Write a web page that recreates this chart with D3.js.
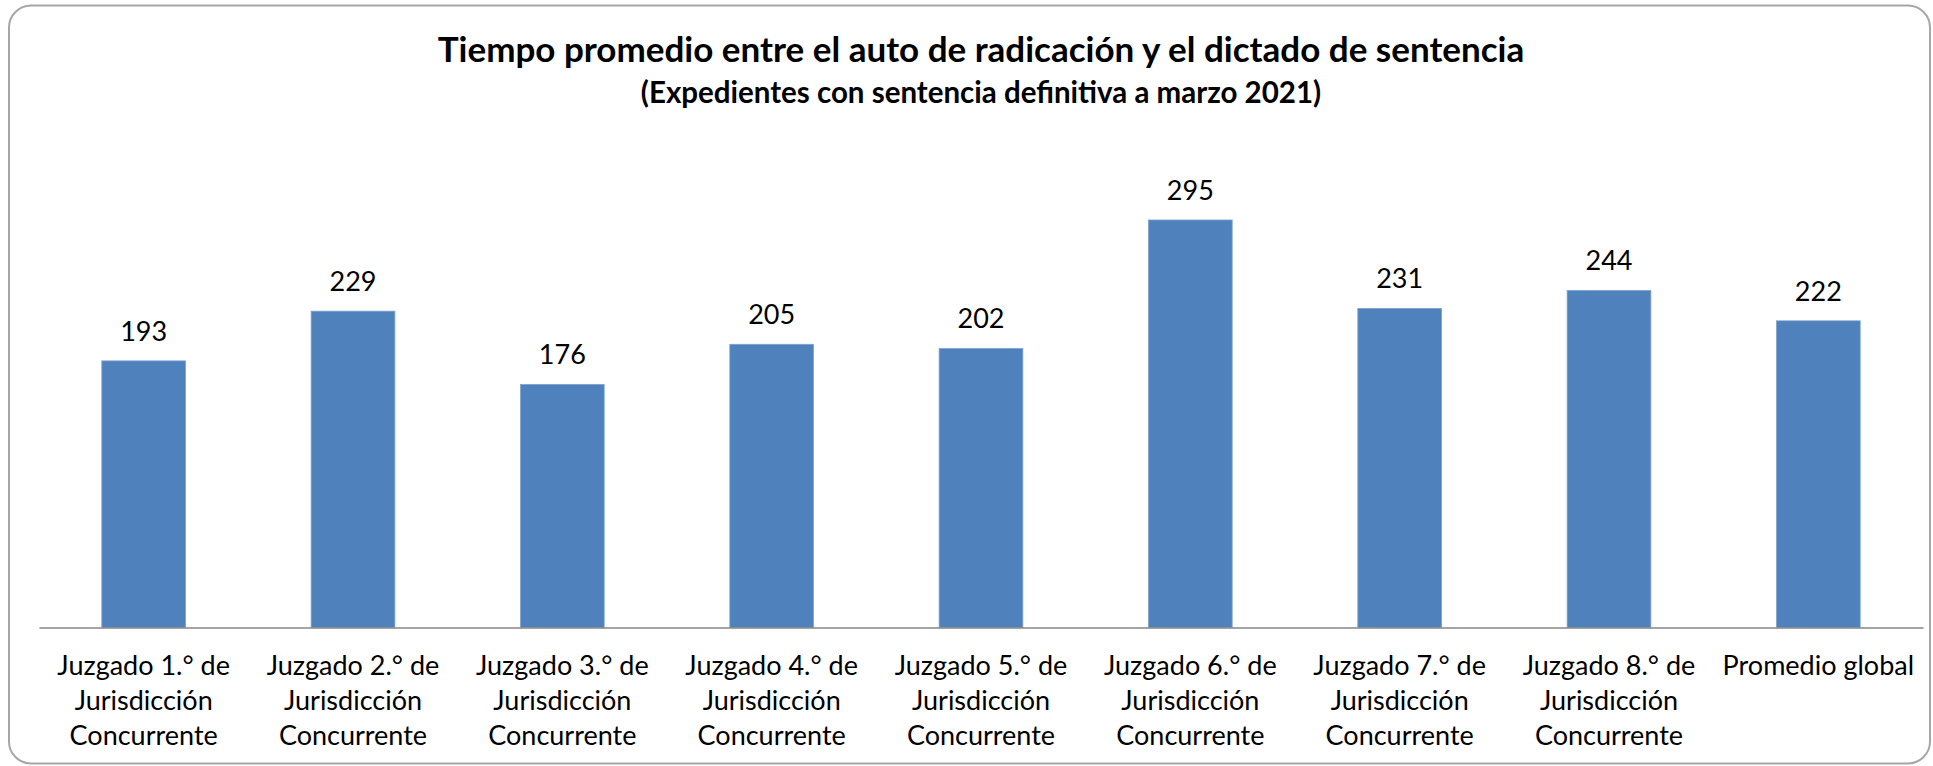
<!DOCTYPE html>
<html>
<head>
<meta charset="utf-8">
<script src="https://cdn.jsdelivr.net/npm/d3@7"></script>
<style>
    body { margin: 0; background: #ffffff; }
    svg { display: block; }
</style>
</head>
<body>
<div id="chart"></div>
<script>
// data
var categories = ["Juzgado 1.° de Jurisdicción Concurrente", "Juzgado 2.° de Jurisdicción Concurrente",
    "Juzgado 3.° de Jurisdicción Concurrente", "Juzgado 4.° de Jurisdicción Concurrente",
    "Juzgado 5.° de Jurisdicción Concurrente", "Juzgado 6.° de Jurisdicción Concurrente",
    "Juzgado 7.° de Jurisdicción Concurrente", "Juzgado 8.° de Jurisdicción Concurrente",
    "Promedio global"];
var values = [193, 229, 176, 205, 202, 295, 231, 244, 222];
var tickLabels = [
    ["Juzgado 1.° de", "Jurisdicción", "Concurrente"],
    ["Juzgado 2.° de", "Jurisdicción", "Concurrente"],
    ["Juzgado 3.° de", "Jurisdicción", "Concurrente"],
    ["Juzgado 4.° de", "Jurisdicción", "Concurrente"],
    ["Juzgado 5.° de", "Jurisdicción", "Concurrente"],
    ["Juzgado 6.° de", "Jurisdicción", "Concurrente"],
    ["Juzgado 7.° de", "Jurisdicción", "Concurrente"],
    ["Juzgado 8.° de", "Jurisdicción", "Concurrente"],
    ["Promedio global"]
];
var yMax = 350;
var title = "Tiempo promedio entre el auto de radicación y el dictado de sentencia";
var subtitle = "(Expedientes con sentencia definitiva a marzo 2021)";

var w = 1933;
var h = 766;

// plot area (window.top is reserved, so no plain "top")
var plotLeft = 39, plotRight = 1923, plotTop = 144, plotBottom = 627.5;

var svg = d3.select("#chart").append("svg").attr("width", w).attr("height", h)
    .style("font-family", "Lato, 'Open Sans', sans-serif");

// chart frame
svg.append("rect")
    .attr("x", 9)
    .attr("y", 5.5)
    .attr("width", 1921)
    .attr("height", 758)
    .attr("rx", 22)
    .attr("fill", "#ffffff")
    .attr("stroke", "#a6a6a6")
    .attr("stroke-width", 2);

// titles
svg.append("text")
    .attr("x", (plotLeft + plotRight) / 2)
    .attr("y", 62)
    .attr("text-anchor", "middle")
    .attr("font-size", "35px")
    .attr("font-weight", "bold")
    .attr("fill", "#000000")
    .text(title);

svg.append("text")
    .attr("x", (plotLeft + plotRight) / 2)
    .attr("y", 103)
    .attr("text-anchor", "middle")
    .attr("font-size", "29.5px")
    .attr("font-weight", "bold")
    .attr("fill", "#000000")
    .text(subtitle);

//scales
var xScale = d3.scaleBand()
    .domain(d3.range(categories.length))
    .range([plotLeft, plotRight])
    .paddingInner(0.6)
    .paddingOuter(0.3);

var yScale = d3.scaleLinear().domain([0, yMax]).range([plotBottom, plotTop]);

// bars
svg.append("g")
    .selectAll("rect")
    .data(values)
    .enter()
    .append("rect")
    .attr("x", function (d, i) { return xScale(i); })
    .attr("y", function (d) { return yScale(d); })
    .attr("width", xScale.bandwidth())
    .attr("height", function (d) { return yScale(0) - yScale(d); })
    .attr("fill", "#4f81bd")
    .attr("stroke", "#7fa3cf")
    .attr("stroke-width", 0.8);

// value labels
svg.append("g")
    .selectAll("text")
    .data(values)
    .enter()
    .append("text")
    .attr("x", function (d, i) { return xScale(i) + xScale.bandwidth() / 2; })
    .attr("y", function (d) { return yScale(d) - 20; })
    .attr("text-anchor", "middle")
    .attr("font-size", "27px")
    .attr("fill", "#000000")
    .text(function (d) { return d; });

// x axis, no ticks, labels wrapped over lines
var xAxis = d3.axisBottom(xScale).tickSize(0).tickFormat("");
var axisG = svg.append("g")
    .attr("transform", "translate(0, " + plotBottom + ")")
    .call(xAxis);

axisG.select(".domain")
    .attr("stroke", "#868686")
    .attr("stroke-width", 1.5);

axisG.selectAll(".tick").each(function (d) {
    var t = d3.select(this).select("text")
        .attr("y", 0)
        .attr("dy", null)
        .attr("font-size", "27px")
        .attr("font-family", "Lato, 'Open Sans', sans-serif")
        .attr("fill", "#000000");
    tickLabels[d].forEach(function (line, k) {
        t.append("tspan")
            .attr("x", 0)
            .attr("y", 47.5 + k * 35)
            .text(line);
    });
});
</script>
</body>
</html>
